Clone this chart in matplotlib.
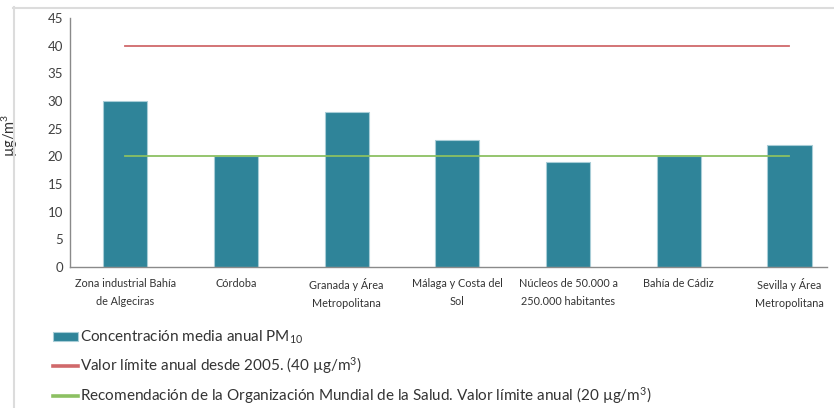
import matplotlib
matplotlib.use("Agg")
import matplotlib.pyplot as plt
from matplotlib.lines import Line2D

plt.rcParams['font.family'] = ['Lato', 'DejaVu Sans']
plt.rcParams['mathtext.fontset'] = 'custom'
plt.rcParams['mathtext.rm'] = 'Lato'

# zonas de calidad del aire y concentracion media anual de PM10 (ug/m3)
zonas = ["Zona industrial Bahía\nde Algeciras", "Córdoba",
         "Granada y Área\nMetropolitana", "Málaga y Costa del\nSol",
         "Núcleos de 50.000 a\n250.000 habitantes", "Bahía de Cádiz",
         "Sevilla y Área\nMetropolitana"]
pm10 = [30, 20, 28, 23, 19, 20, 22]
limite_anual = 40
recomendacion_oms = 20

azul = "#2f8499"
rojo = "#d0696b"
verde = "#8cc062"

fig = plt.figure(figsize=(8.34, 4.08), dpi=100)
ax = fig.add_axes([70/834, 1-267/408, 757/834, 249/408])

x = list(range(len(zonas)))
barras = ax.bar(x, pm10, width=0.4, color=azul, edgecolor="#a8cdd7", linewidth=0.8,
                label=r"Concentración media anual PM$\mathregular{_{10}}$", zorder=2)
l_ue, = ax.plot(x, [limite_anual]*len(x), color=rojo, lw=1.3, zorder=3,
                label=r"Valor límite anual desde 2005. (40 µg/m$\mathregular{^3}$)")
l_oms, = ax.plot(x, [recomendacion_oms]*len(x), color=verde, lw=1.3, zorder=3,
                 label=r"Recomendación de la Organización Mundial de la Salud. Valor límite anual (20 µg/m$\mathregular{^3}$)")

ax.set_xlim(-0.5, 6.34)
ax.set_ylim(0, 45)
ax.set_yticks(range(0, 46, 5))
ax.set_xticks(x)
ax.set_xticklabels(zonas, fontsize=7.8, color="#333333", linespacing=1.75)
ax.tick_params(axis='both', length=0)
ax.tick_params(axis='y', labelsize=9.5, colors="#404040", pad=5)
ax.tick_params(axis='x', pad=8)
for lado in ['top', 'right']:
    ax.spines[lado].set_visible(False)
for lado in ['left', 'bottom']:
    ax.spines[lado].set_color("#8a8a8a")
    ax.spines[lado].set_linewidth(1.0)

ax.set_ylabel(r"µg/m$\mathregular{^3}$", fontsize=10.5, color="#333333")
ax.yaxis.set_label_coords(-0.066, 0.53)

leg = ax.legend([barras, l_ue, l_oms], [barras.get_label(), l_ue.get_label(), l_oms.get_label()],
                loc='upper left', bbox_to_anchor=(53/834, 1-329/408),
                bbox_transform=fig.transFigure, frameon=False, fontsize=11,
                handlelength=1.65, handleheight=0.45, handletextpad=0.12,
                labelspacing=0.58, borderaxespad=0, borderpad=0)
for t in leg.get_texts():
    t.set_color("#333333")
for h in leg.get_lines():
    h.set_linewidth(2.6)

# marco gris del recuadro
borde = "#dcdcdc"
fig.add_artist(Line2D([13/834, 1], [1-7.5/408, 1-7.5/408], color=borde, lw=1.5,
                      transform=fig.transFigure))
fig.add_artist(Line2D([13.5/834, 13.5/834], [0, 1-7/408], color=borde, lw=1.5,
                      transform=fig.transFigure))

fig.savefig("out.png", dpi=100)
